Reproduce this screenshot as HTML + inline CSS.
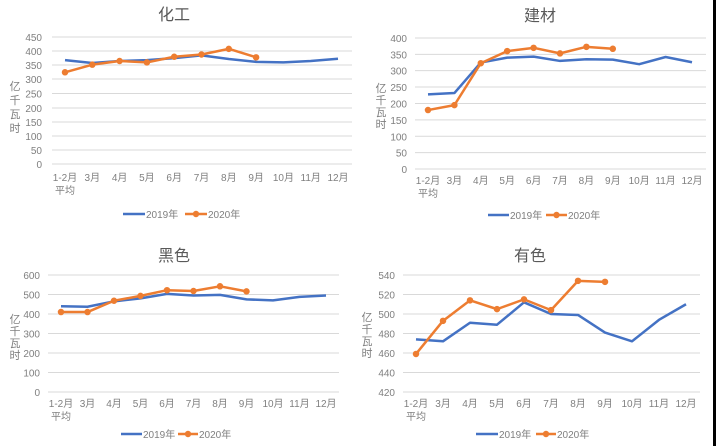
<!DOCTYPE html>
<html><head><meta charset="utf-8"><style>
html,body{margin:0;padding:0;background:#fff;}
svg{display:block;}
text{font-family:"Liberation Sans","Noto Sans CJK SC",sans-serif;fill:#7f7f7f;font-size:10px;}
.t{font-size:16px;fill:#595959;}
.yl{font-size:11px;fill:#7f7f7f;}
.g line{stroke:#d9d9d9;stroke-width:1;}
.b{fill:none;stroke:#4472c4;stroke-width:2.5;vector-effect:non-scaling-stroke;stroke-linejoin:round;}
.o{fill:none;stroke:#ed7d31;stroke-width:2.5;vector-effect:non-scaling-stroke;stroke-linejoin:round;}
.m{fill:none;stroke:#ed7d31;stroke-width:6.5;stroke-linecap:round;vector-effect:non-scaling-stroke;}
</style></head><body>
<svg width="716" height="446" viewBox="0 0 716 446" xmlns="http://www.w3.org/2000/svg">
<rect width="716" height="446" fill="#fff"/>

<!-- Chart 1 -->
<text class="t" x="174" y="20" text-anchor="middle">化工</text>
<g class="g"><line x1="52" x2="352" y1="164" y2="164"/><line x1="52" x2="352" y1="150" y2="150"/><line x1="52" x2="352" y1="136" y2="136"/><line x1="52" x2="352" y1="122" y2="122"/><line x1="52" x2="352" y1="108" y2="108"/><line x1="52" x2="352" y1="93.5" y2="93.5"/><line x1="52" x2="352" y1="79" y2="79"/><line x1="52" x2="352" y1="65" y2="65"/><line x1="52" x2="352" y1="51" y2="51"/><line x1="52" x2="352" y1="37" y2="37"/></g>
<g text-anchor="end"><text x="42" y="168">0</text><text x="42" y="154">50</text><text x="42" y="140">100</text><text x="42" y="126">150</text><text x="42" y="112">200</text><text x="42" y="97.5">250</text><text x="42" y="83">300</text><text x="42" y="69">350</text><text x="42" y="55">400</text><text x="42" y="41">450</text></g>
<g text-anchor="middle"><text class="yl" x="15" y="90">亿</text><text class="yl" x="15" y="104">千</text><text class="yl" x="15" y="118">瓦</text><text class="yl" x="15" y="132">时</text></g>
<g text-anchor="middle"><text x="65" y="181">1-2月</text><text x="65" y="194">平均</text><text x="92.3" y="181">3月</text><text x="119.6" y="181">4月</text><text x="146.9" y="181">5月</text><text x="174.2" y="181">6月</text><text x="201.5" y="181">7月</text><text x="228.8" y="181">8月</text><text x="256.1" y="181">9月</text><text x="283.4" y="181">10月</text><text x="310.7" y="181">11月</text><text x="338" y="181">12月</text></g>
<g transform="translate(65,164) scale(27.3,-0.2822)">
<polyline class="b" points="0,368 1,358 2,365 3,368 4,375 5,385 6,372 7,362 8,360 9,365 10,373"/>
<polyline class="o" points="0,325 1,352 2,365 3,360 4,380 5,388 6,408 7,378"/>
<path class="m" d="M0 325h0M1 352h0M2 365h0M3 360h0M4 380h0M5 388h0M6 408h0M7 378h0"/>
</g>
<line x1="123" x2="145" y1="214" y2="214" stroke="#4472c4" stroke-width="2.5"/><text x="146" y="218">2019年</text>
<line x1="185" x2="207" y1="214" y2="214" stroke="#ed7d31" stroke-width="2.5"/><circle cx="196" cy="214" r="3.2" fill="#ed7d31"/><text x="208" y="218">2020年</text>

<!-- Chart 2 -->
<text class="t" x="540" y="21" text-anchor="middle">建材</text>
<g class="g"><line x1="415" x2="706" y1="169" y2="169"/><line x1="415" x2="706" y1="152.6" y2="152.6"/><line x1="415" x2="706" y1="136.3" y2="136.3"/><line x1="415" x2="706" y1="119.9" y2="119.9"/><line x1="415" x2="706" y1="103.5" y2="103.5"/><line x1="415" x2="706" y1="87" y2="87"/><line x1="415" x2="706" y1="70.6" y2="70.6"/><line x1="415" x2="706" y1="54.4" y2="54.4"/><line x1="415" x2="706" y1="38" y2="38"/></g>
<g text-anchor="end"><text x="407" y="173">0</text><text x="407" y="156.6">50</text><text x="407" y="140.3">100</text><text x="407" y="123.9">150</text><text x="407" y="107.5">200</text><text x="407" y="91">250</text><text x="407" y="74.6">300</text><text x="407" y="58.4">350</text><text x="407" y="42">400</text></g>
<g text-anchor="middle"><text class="yl" x="381" y="92">亿</text><text class="yl" x="381" y="104">千</text><text class="yl" x="381" y="116">瓦</text><text class="yl" x="381" y="128">时</text></g>
<g text-anchor="middle"><text x="428" y="184">1-2月</text><text x="428" y="197">平均</text><text x="454.4" y="184">3月</text><text x="480.8" y="184">4月</text><text x="507.2" y="184">5月</text><text x="533.6" y="184">6月</text><text x="560" y="184">7月</text><text x="586.4" y="184">8月</text><text x="612.8" y="184">9月</text><text x="639.2" y="184">10月</text><text x="665.6" y="184">11月</text><text x="692" y="184">12月</text></g>
<g transform="translate(428,169) scale(26.4,-0.3275)">
<polyline class="b" points="0,228 1,232 2,325 3,340 4,343 5,330 6,335 7,334 8,320 9,342 10,326"/>
<polyline class="o" points="0,180 1,195 2,323 3,360 4,370 5,353 6,373 7,367"/>
<path class="m" d="M0 180h0M1 195h0M2 323h0M3 360h0M4 370h0M5 353h0M6 373h0M7 367h0"/>
</g>
<line x1="488" x2="509" y1="215" y2="215" stroke="#4472c4" stroke-width="2.5"/><text x="510" y="219">2019年</text>
<line x1="546" x2="567" y1="215" y2="215" stroke="#ed7d31" stroke-width="2.5"/><circle cx="556.5" cy="215" r="3.2" fill="#ed7d31"/><text x="568" y="219">2020年</text>

<!-- Chart 3 -->
<text class="t" x="174" y="261" text-anchor="middle">黑色</text>
<g class="g"><line x1="48" x2="339" y1="392" y2="392"/><line x1="48" x2="339" y1="372.5" y2="372.5"/><line x1="48" x2="339" y1="353" y2="353"/><line x1="48" x2="339" y1="333.5" y2="333.5"/><line x1="48" x2="339" y1="314" y2="314"/><line x1="48" x2="339" y1="294.5" y2="294.5"/><line x1="48" x2="339" y1="275" y2="275"/></g>
<g text-anchor="end"><text x="40" y="396">0</text><text x="40" y="376.5">100</text><text x="40" y="357">200</text><text x="40" y="337.5">300</text><text x="40" y="318">400</text><text x="40" y="298.5">500</text><text x="40" y="279">600</text></g>
<g text-anchor="middle"><text class="yl" x="15" y="323">亿</text><text class="yl" x="15" y="335">千</text><text class="yl" x="15" y="347">瓦</text><text class="yl" x="15" y="359">时</text></g>
<g text-anchor="middle"><text x="61" y="407">1-2月</text><text x="61" y="420">平均</text><text x="87.5" y="407">3月</text><text x="114" y="407">4月</text><text x="140.5" y="407">5月</text><text x="167" y="407">6月</text><text x="193.5" y="407">7月</text><text x="220" y="407">8月</text><text x="246.5" y="407">9月</text><text x="273" y="407">10月</text><text x="299.5" y="407">11月</text><text x="326" y="407">12月</text></g>
<g transform="translate(61,392) scale(26.5,-0.195)">
<polyline class="b" points="0,440 1,437 2,465 3,480 4,503 5,495 6,498 7,475 8,470 9,488 10,495"/>
<polyline class="o" points="0,410 1,410 2,468 3,493 4,522 5,518 6,542 7,516"/>
<path class="m" d="M0 410h0M1 410h0M2 468h0M3 493h0M4 522h0M5 518h0M6 542h0M7 516h0"/>
</g>
<line x1="121" x2="142" y1="434" y2="434" stroke="#4472c4" stroke-width="2.5"/><text x="143" y="438">2019年</text>
<line x1="178" x2="198" y1="434" y2="434" stroke="#ed7d31" stroke-width="2.5"/><circle cx="188" cy="434" r="3.2" fill="#ed7d31"/><text x="199" y="438">2020年</text>

<!-- Chart 4 -->
<text class="t" x="530" y="261" text-anchor="middle">有色</text>
<g class="g"><line x1="403" x2="700" y1="392" y2="392"/><line x1="403" x2="700" y1="372.5" y2="372.5"/><line x1="403" x2="700" y1="353" y2="353"/><line x1="403" x2="700" y1="333.5" y2="333.5"/><line x1="403" x2="700" y1="314" y2="314"/><line x1="403" x2="700" y1="294.5" y2="294.5"/><line x1="403" x2="700" y1="275" y2="275"/></g>
<g text-anchor="end"><text x="395" y="396">420</text><text x="395" y="376.5">440</text><text x="395" y="357">460</text><text x="395" y="337.5">480</text><text x="395" y="318">500</text><text x="395" y="298.5">520</text><text x="395" y="279">540</text></g>
<g text-anchor="middle"><text class="yl" x="367" y="321">亿</text><text class="yl" x="367" y="333">千</text><text class="yl" x="367" y="345">瓦</text><text class="yl" x="367" y="357">时</text></g>
<g text-anchor="middle"><text x="416" y="407">1-2月</text><text x="416" y="420">平均</text><text x="443" y="407">3月</text><text x="470" y="407">4月</text><text x="497" y="407">5月</text><text x="524" y="407">6月</text><text x="551" y="407">7月</text><text x="578" y="407">8月</text><text x="605" y="407">9月</text><text x="632" y="407">10月</text><text x="659" y="407">11月</text><text x="686" y="407">12月</text></g>
<g transform="translate(416,392) scale(27,-0.975) translate(0,-420)">
<polyline class="b" points="0,474 1,472 2,491 3,489 4,512 5,500 6,499 7,481 8,472 9,494 10,510"/>
<polyline class="o" points="0,459 1,493 2,514 3,505 4,515 5,504 6,534 7,533"/>
<path class="m" d="M0 459h0M1 493h0M2 514h0M3 505h0M4 515h0M5 504h0M6 534h0M7 533h0"/>
</g>
<line x1="476" x2="498" y1="434" y2="434" stroke="#4472c4" stroke-width="2.5"/><text x="499" y="438">2019年</text>
<line x1="536" x2="556" y1="434" y2="434" stroke="#ed7d31" stroke-width="2.5"/><circle cx="546" cy="434" r="3.2" fill="#ed7d31"/><text x="557" y="438">2020年</text>

<rect x="713" y="0" width="3" height="446" fill="#000"/>
</svg>
</body></html>
